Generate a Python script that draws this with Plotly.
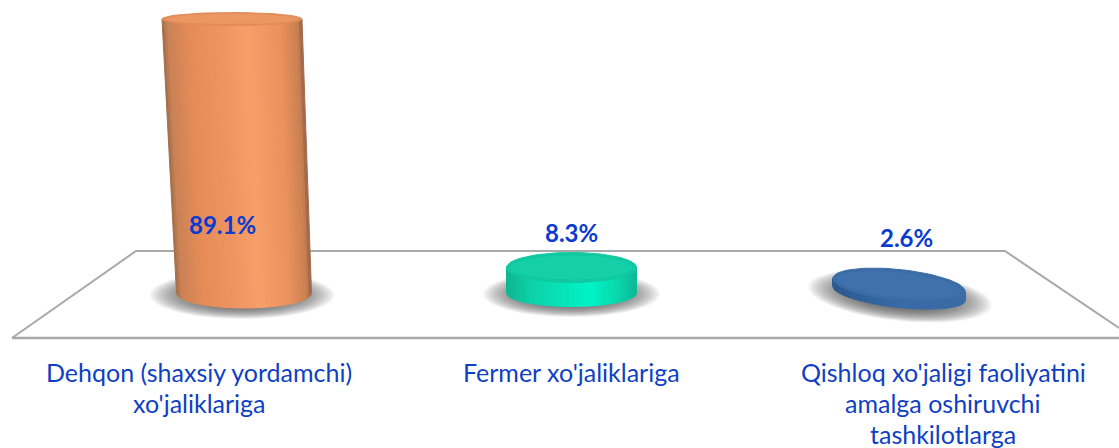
import numpy as np
import plotly.graph_objects as go

categories = [["Dehqon (shaxsiy yordamchi)", "xo'jaliklariga"],
              ["Fermer xo'jaliklariga"],
              ["Qishloq xo'jaligi faoliyatini", "amalga oshiruvchi", "tashkilotlarga"]]
values = [89.1, 8.3, 2.6]
value_labels = ["89.1%", "8.3%", "2.6%"]

W, H = 1119, 448
PX_X = 327.5      # pixels per category step
PX_Y = 3.075      # pixels per percentage point
X0, Y0 = 244, 293 # pixel of category 0 / value 0
BLUE_TXT = "#0b3bd0"
LBL_TXT = "#0f3fc4"

# drawing style per cylinder
styles = [
    dict(hw0=67.5, hw1=70, b0=15, b1=6.5, lean=-12, tilt=0,
         stops=[(0, "#9c6a4a"), (.04, "#c98255"), (.2, "#e68c59"), (.42, "#ee9562"), (.62, "#f8a06a"), (.85, "#ea915d"), (.97, "#c98052"), (1, "#94634a")],
         cap="#e08c5a", cap2="#ec9663"),
    dict(hw0=65, hw1=65, b0=13.5, b1=15, lean=0, tilt=0,
         stops=[(0, "#10b592"), (.2, "#0fd3a9"), (.5, "#05eabd"), (.65, "#00f5c8"), (.85, "#0ad9ae"), (1, "#0eb896")],
         cap="#10c9a0", cap2="#14cfa7"),
    dict(hw0=66.5, hw1=66.5, b0=14.5, b1=15.5, lean=0, tilt=6,
         stops=[(0, "#2c5a90"), (.5, "#386ba8"), (1, "#3a6ca6")],
         cap="#3b6ca6", cap2="#3f72ad"),
]
shadows = [dict(a=92, b=24, cx=-2, cy=-2, tilt=0),
           dict(a=88, b=23, cx=0, cy=-1, tilt=0),
           dict(a=92, b=25, cx=1, cy=-3, tilt=6)]


def hex2rgb(h):
    return np.array([int(h[i:i + 2], 16) for i in (1, 3, 5)], float)


def ramp(stops, t):
    ts = [s[0] for s in stops]
    cs = np.array([hex2rgb(s[1]) for s in stops])
    c = [np.interp(t, ts, cs[:, i]) for i in range(3)]
    return "rgb(%d,%d,%d)" % tuple(c)


def to_x(px):
    return px / PX_X


def to_y(px):
    return px / PX_Y


def ellipse(cx, cy, a, b, tilt, n=90):
    th = np.linspace(0, 2 * np.pi, n)
    r = np.radians(tilt)
    ex, ey = a * np.cos(th), b * np.sin(th)
    # ex/ey in pixels, y up; positive tilt lowers the right side
    xs = ex * np.cos(r) + ey * np.sin(r)
    ys = -ex * np.sin(r) + ey * np.cos(r)
    return cx + to_x(xs), cy + to_y(ys)


fig = go.Figure()

# soft shadows on the floor
for i, sh in enumerate(shadows):
    for k in range(22):
        f = 1 - k * 0.03
        ex, ey = ellipse(i + to_x(sh["cx"]), to_y(sh["cy"]), sh["a"] * f, sh["b"] * f, sh["tilt"])
        fig.add_trace(go.Scatter(x=ex, y=ey, mode="lines", fill="toself", line=dict(width=0),
                                 fillcolor="rgba(70,70,70,0.07)", hoverinfo="skip", showlegend=False))

# the value bars, which the cylinder surfaces wrap
fig.add_trace(go.Bar(x=[0, 1, 2], y=values, width=0.2, marker=dict(color=[s["cap"] for s in styles], line=dict(width=0)),
                     hoverinfo="skip", showlegend=False))

# cylinders
N = 56
for i, (v, s) in enumerate(zip(values, styles)):
    r = np.radians(s["tilt"])
    for k in range(N):
        u0, u1 = -1 + 2 * k / N, -1 + 2 * (k + 1) / N
        us = np.linspace(u0, u1, 4)
        bx = i + to_x(us * s["hw0"])
        by = to_y(-np.sqrt(1 - us ** 2) * s["b0"] - us * s["hw0"] * np.sin(r))
        tx = i + to_x(s["lean"] + us * s["hw1"])
        ty = v + to_y(-us * s["hw1"] * np.sin(r) - np.sqrt(1 - us ** 2) * s["b1"])
        xs = np.r_[bx, tx[::-1], bx[0]]
        ys = np.r_[by, ty[::-1], by[0]]
        c = ramp(s["stops"], (k + .5) / N)
        fig.add_trace(go.Scatter(x=xs, y=ys, mode="lines", fill="toself", fillcolor=c,
                                 line=dict(color=c, width=1), hoverinfo="skip", showlegend=False))
    ex, ey = ellipse(i + to_x(s["lean"]), v, s["hw1"], s["b1"], s["tilt"])
    fig.add_trace(go.Scatter(x=ex, y=ey, mode="lines", fill="toself", fillcolor=s["cap"],
                             line=dict(color=s["cap"], width=1), hoverinfo="skip", showlegend=False))
    ex, ey = ellipse(i + to_x(s["lean"]), v, s["hw1"] - 4, s["b1"] * .8, s["tilt"])
    fig.add_trace(go.Scatter(x=ex, y=ey, mode="lines", fill="toself", fillcolor=s["cap2"],
                             line=dict(width=0), hoverinfo="skip", showlegend=False))

annotations = []
label_pos = [(-22, 22.4), (0, 19.6), (7, 17.9)]
for t, (dx, vy), i in zip(value_labels, label_pos, range(3)):
    annotations.append(dict(x=i + to_x(dx), y=vy, xref="x", yref="y", text="<b>%s</b>" % t, showarrow=False,
                            font=dict(family="Lato, Carlito, sans-serif", size=24, color=BLUE_TXT)))
label_centers = [-45, 0, 44]
FIRST_LINE, LINE_H = 371.5, 31
for i, lines in enumerate(categories):
    for j, line in enumerate(lines):
        annotations.append(dict(x=i + to_x(label_centers[i]), y=to_y(Y0 - FIRST_LINE - j * LINE_H), xref="x", yref="y",
                                text=line, showarrow=False,
                                font=dict(family="Lato, Carlito, sans-serif", size=25, color=LBL_TXT)))

plane = [dict(type="path", xref="paper", yref="paper",
              path="M %.4f %.4f L %.4f %.4f L %.4f %.4f L %.4f %.4f" % (
                  12 / W, 1 - 338 / H, 136 / W, 1 - 251 / H, 1005 / W, 1 - 251 / H, 1119 / W, 1 - 328 / H),
              line=dict(color="#a9a9a9", width=2), layer="below"),
         dict(type="line", xref="paper", yref="paper", x0=12 / W, y0=1 - 338 / H, x1=1, y1=1 - 338 / H,
              line=dict(color="#a9a9a9", width=2.5), layer="below")]

fig.update_layout(
    width=W, height=H, margin=dict(l=0, r=0, t=0, b=0), paper_bgcolor="white", plot_bgcolor="white",
    showlegend=False, annotations=annotations, shapes=plane, barmode="overlay",
    xaxis=dict(range=[-X0 / PX_X, (W - X0) / PX_X], visible=False, fixedrange=True),
    yaxis=dict(range=[-(H - Y0) / PX_Y, Y0 / PX_Y], visible=False, fixedrange=True),
)
fig.write_html("out.html", config=dict(displayModeBar=False), post_script="document.body.style.margin='0';")
